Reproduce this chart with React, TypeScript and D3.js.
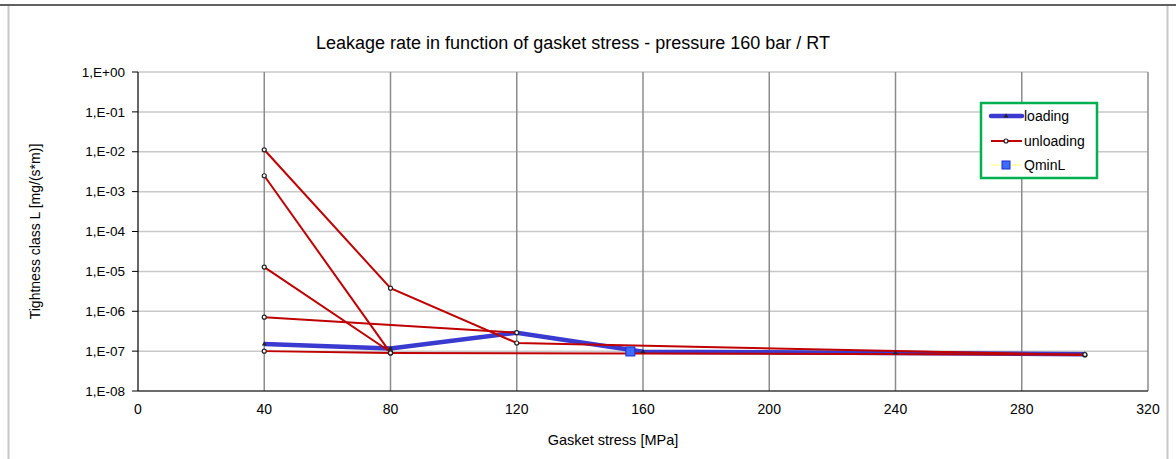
import React from 'react';
import * as d3 from 'd3';

// chart data
const xTicks = [0, 40, 80, 120, 160, 200, 240, 280, 320];
const yTicks = [1, 1e-1, 1e-2, 1e-3, 1e-4, 1e-5, 1e-6, 1e-7, 1e-8];

const loadingX = [40, 80, 120, 160, 240, 300];
const loadingY = [1.5e-7, 1.17e-7, 2.9e-7, 9.6e-8, 9.0e-8, 8.4e-8];

// unloading cycles, each drawn as its own path
const unloadingX = [
  [80, 40],
  [120, 40],
  [300, 120, 80, 40],
  [80, 40],
  [40, 80, 300],
];
const unloadingY = [
  [9.5e-8, 1.28e-5],
  [2.9e-7, 7.1e-7],
  [8.0e-8, 1.6e-7, 3.8e-6, 1.12e-2],
  [9.0e-8, 2.5e-3],
  [1.0e-7, 9.0e-8, 8.2e-8],
];

const qminX = [156];
const qminY = [9.8e-8];

const FONT = '"Liberation Sans", Arial, sans-serif';

const margin = { top: 72, right: 28, bottom: 68, left: 138 };
const W = 1176;
const H = 459;

const fmtY = (v: number) => {
  const e = Math.round(Math.log10(v));
  const s = e >= 0 ? '+' : '-';
  return `1,E${s}${String(Math.abs(e)).padStart(2, '0')}`;
};

export default function App() {
  const x = d3.scaleLinear().domain([0, 320]).range([margin.left, W - margin.right]);
  const y = d3.scaleLog().domain([1e-8, 1]).range([H - margin.bottom, margin.top]);

  const line = d3.line<[number, number]>()
    .x(d => x(d[0]))
    .y(d => y(d[1]));

  const loading = loadingX.map((v, i) => [v, loadingY[i]] as [number, number]);
  const unloading = unloadingX.map((xs, k) => xs.map((v, i) => [v, unloadingY[k][i]] as [number, number]));

  const x0 = x(0);
  const x1 = x(320);
  const yTop = y(1);
  const yBot = y(1e-8);
  const tri = d3.symbol(d3.symbolTriangle, 10)() || '';

  const lg = { x: 981, y: 103, w: 116, h: 75 };

  return (
    <svg width={W} height={H} style={{ position: 'absolute', left: 0, top: 0, background: '#fff' }}
      fontFamily={FONT}>
      {/* outer frame */}
      <line x1={0} x2={W} y1={5} y2={5} stroke="#606060" strokeWidth={2} />
      <line x1={8.5} x2={8.5} y1={6} y2={H} stroke="#c8c8c8" strokeWidth={2} />
      <line x1={1167.5} x2={1167.5} y1={6} y2={H} stroke="#c8c8c8" strokeWidth={2} />

      {/* horizontal grid */}
      {yTicks.map(t => (
        <line key={'hg' + t} x1={x0} x2={x1} y1={y(t)} y2={y(t)} stroke="#c8c8c8" strokeWidth={1.5} />
      ))}
      {/* vertical grid */}
      {xTicks.slice(1).map(t => (
        <line key={'vg' + t} x1={x(t)} x2={x(t)} y1={yTop} y2={yBot} stroke="#8c8c8c" strokeWidth={1.5} />
      ))}

      {/* axes */}
      <line x1={x0} x2={x0} y1={yTop} y2={yBot} stroke="#000" strokeWidth={1.2} />
      <line x1={x0} x2={x1} y1={yBot} y2={yBot} stroke="#000" strokeWidth={1.2} />
      {yTicks.map(t => (
        <g key={'yt' + t}>
          <line x1={x0 - 6} x2={x0} y1={y(t)} y2={y(t)} stroke="#000" strokeWidth={1} />
          <text x={x0 - 13} y={y(t)} dy="0.35em" textAnchor="end" fontSize={13.5} fill="#000">{fmtY(t)}</text>
        </g>
      ))}
      {xTicks.map(t => (
        <text key={'xt' + t} x={x(t)} y={yBot + 23} textAnchor="middle" fontSize={14} fill="#000">{t}</text>
      ))}

      {/* loading line */}
      <path d={line(loading) || ''} fill="none" stroke="#3a3ad0" strokeWidth={4.5} />
      {/* unloading lines */}
      {unloading.map((seg, k) => (
        <path key={'ul' + k} d={line(seg) || ''} fill="none" stroke="#c00000" strokeWidth={2} />
      ))}
      {loading.map((p, i) => (
        <path key={'lm' + i} transform={`translate(${x(p[0])},${y(p[1])})`} d={tri} fill="#222" />
      ))}
      {unloading.flat().map((p, i) => (
        <circle key={'um' + i} cx={x(p[0])} cy={y(p[1])} r={2} fill="#fff" stroke="#222" strokeWidth={1.2} />
      ))}
      {/* QminL */}
      {qminX.map((v, i) => (
        <rect key={'q' + i} x={x(v) - 4.5} y={y(qminY[i]) - 4.5} width={9} height={9}
          fill="#3f6bff" stroke="#1a2fd0" strokeWidth={1} />
      ))}

      {/* titles */}
      <text x={573} y={49} textAnchor="middle" fontSize={18} fill="#000">
        Leakage rate in function of gasket stress - pressure 160 bar / RT
      </text>
      <text x={613} y={445} textAnchor="middle" fontSize={14.5} fill="#000">Gasket stress [MPa]</text>
      <text transform={`translate(40,${(yTop + yBot) / 2}) rotate(-90)`} textAnchor="middle" fontSize={14} fill="#000">
        Tightness class L [mg/(s*m)]
      </text>

      {/* legend */}
      <rect x={lg.x} y={lg.y} width={lg.w} height={lg.h} fill="#fff" stroke="#00b050" strokeWidth={2.5} />
      <line x1={lg.x + 10} x2={lg.x + 41} y1={lg.y + 13} y2={lg.y + 13} stroke="#3a3ad0" strokeWidth={4.5} strokeLinecap="round" />
      <path transform={`translate(${lg.x + 25},${lg.y + 13})`} d={tri} fill="#222" />
      <text x={lg.x + 43} y={lg.y + 13} dy="0.35em" fontSize={14} fill="#000">loading</text>
      <line x1={lg.x + 10} x2={lg.x + 41} y1={lg.y + 38} y2={lg.y + 38} stroke="#c00000" strokeWidth={2} />
      <circle cx={lg.x + 25} cy={lg.y + 38} r={2} fill="#fff" stroke="#222" strokeWidth={1.2} />
      <text x={lg.x + 43} y={lg.y + 38} dy="0.35em" fontSize={14} fill="#000">unloading</text>
      <line x1={lg.x + 10} x2={lg.x + 41} y1={lg.y + 62} y2={lg.y + 62} stroke="#ffffa0" strokeWidth={1.5} />
      <rect x={lg.x + 21} y={lg.y + 58} width={8} height={8} fill="#3f6bff" stroke="#1a2fd0" strokeWidth={1} />
      <text x={lg.x + 43} y={lg.y + 62} dy="0.35em" fontSize={14} fill="#000">QminL</text>
    </svg>
  );
}
